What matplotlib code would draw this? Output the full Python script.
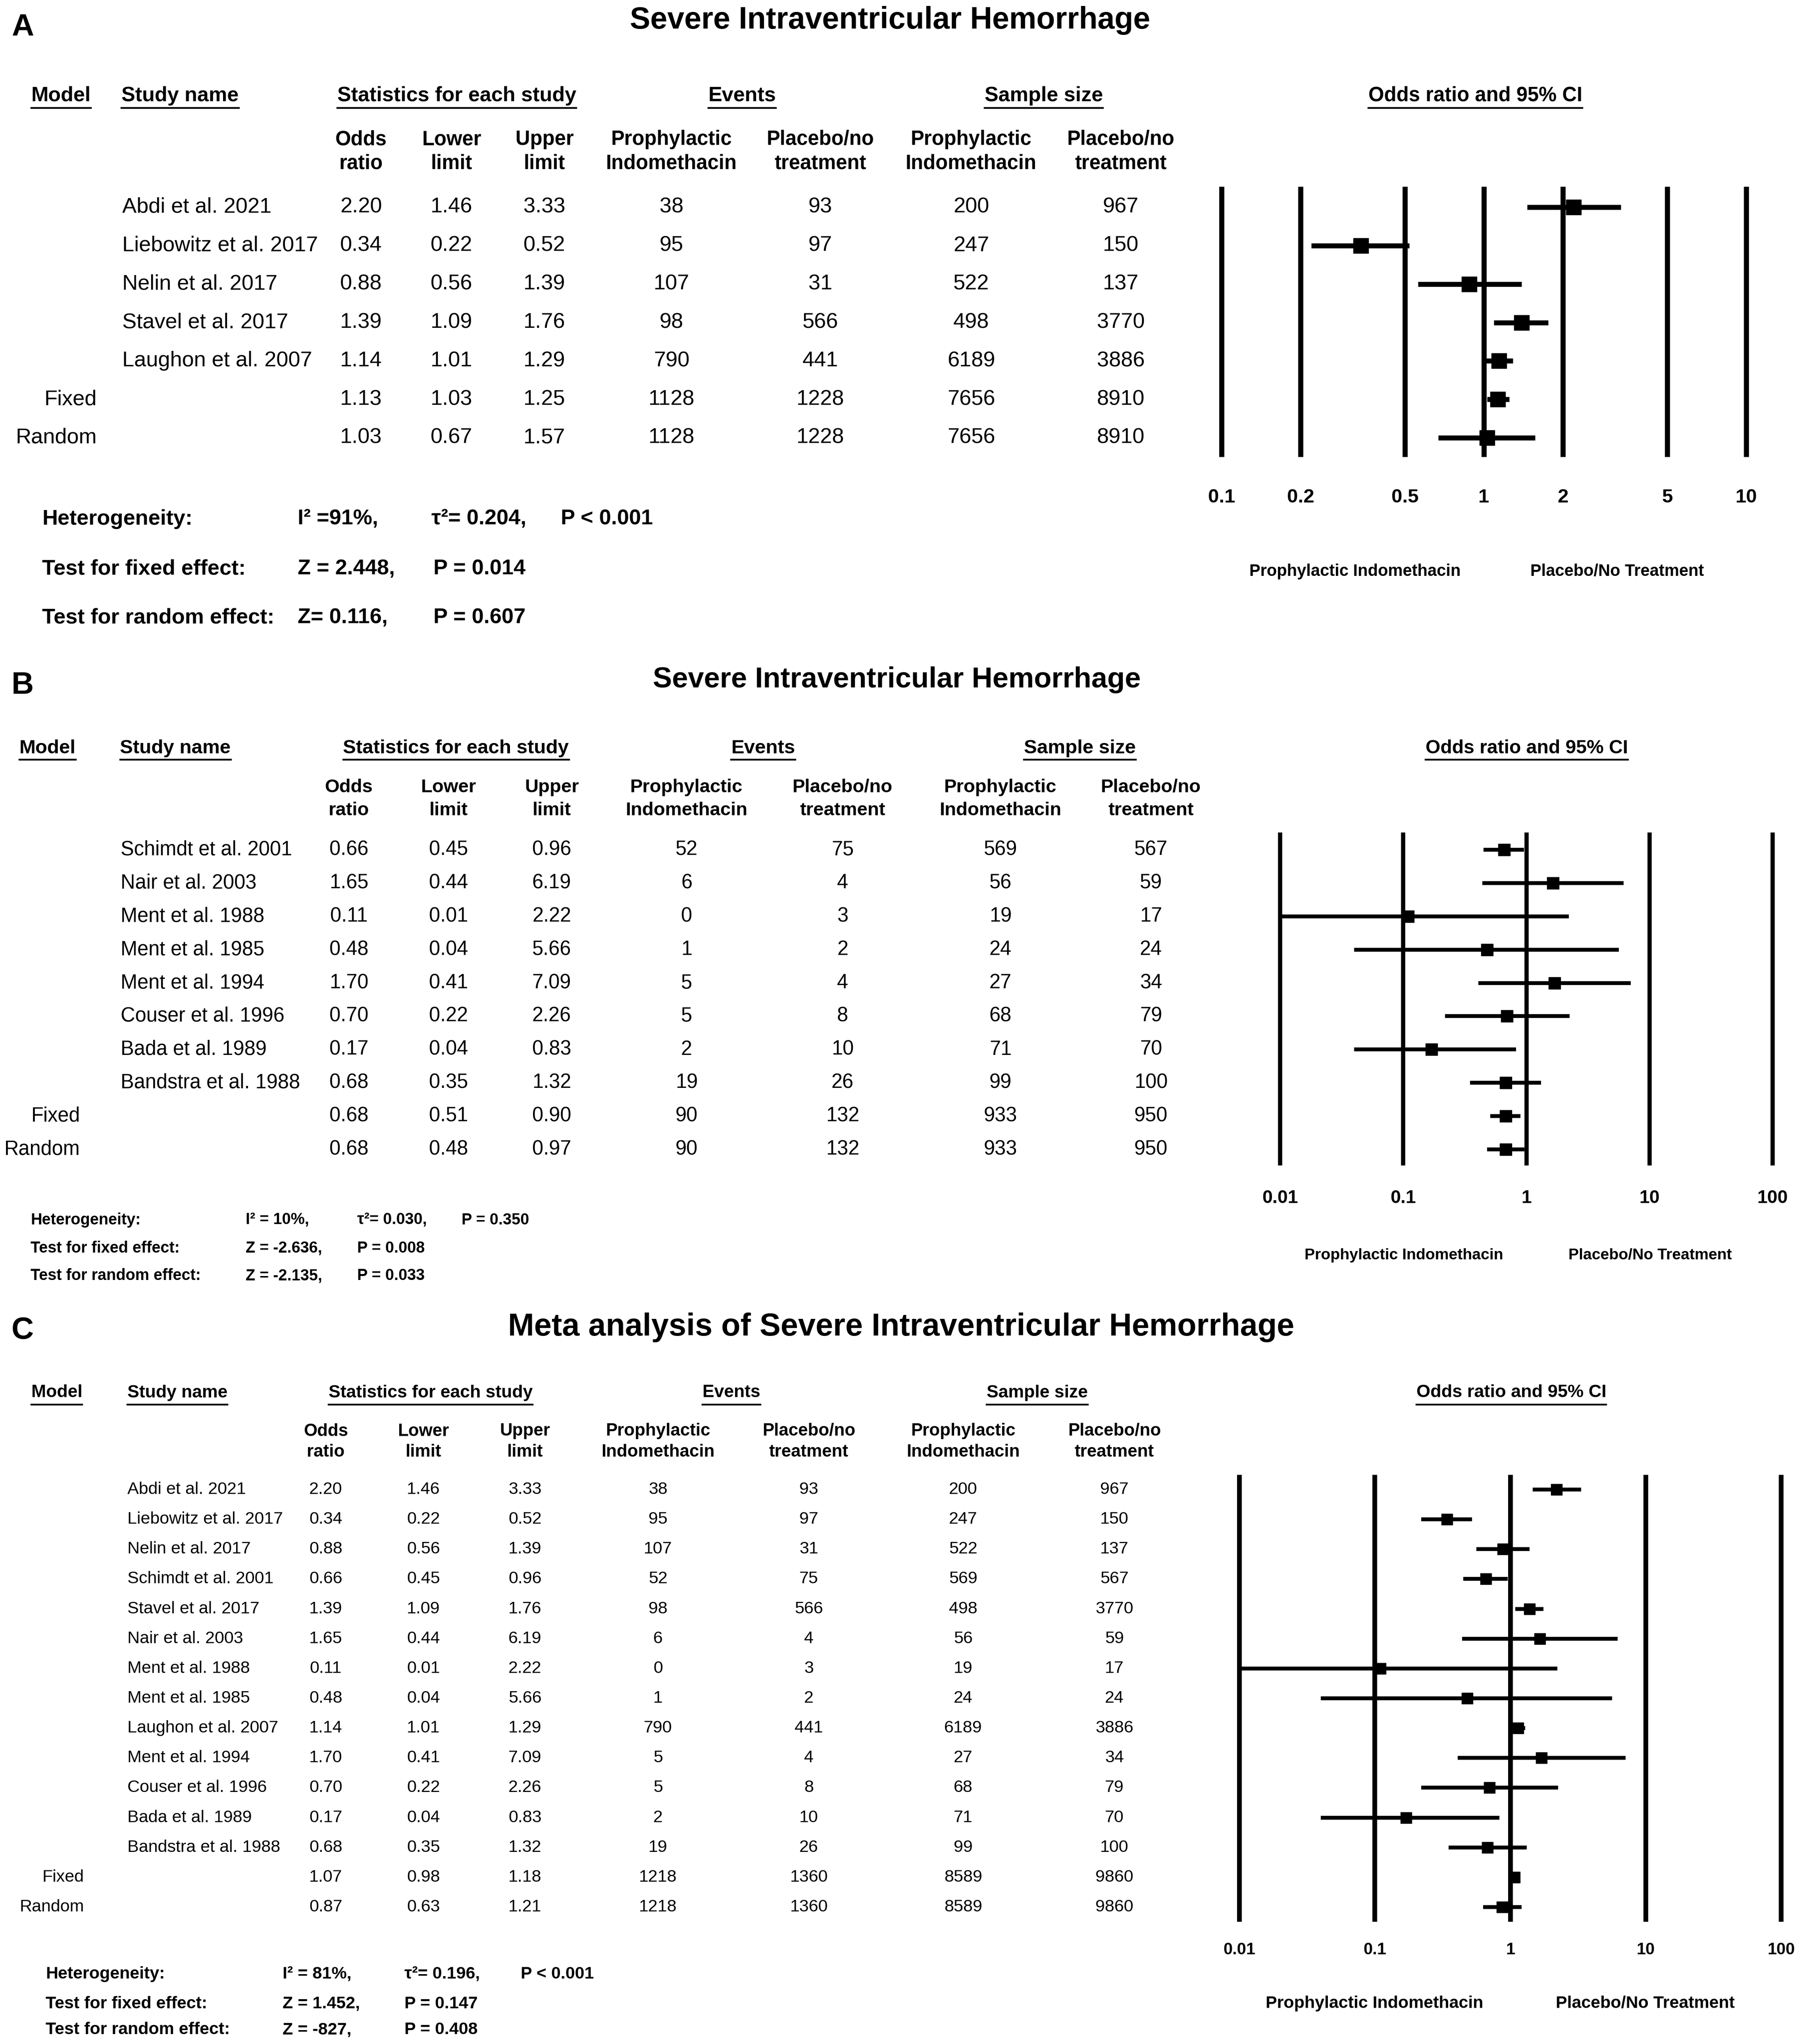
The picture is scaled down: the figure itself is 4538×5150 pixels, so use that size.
import matplotlib
matplotlib.use("Agg")
import matplotlib.pyplot as plt
from matplotlib.lines import Line2D

plt.rcParams['font.family'] = ['Liberation Sans', 'DejaVu Sans']

W, H = 4538, 5150
DPI = 100

# ------------------------------------------------------------------ data
# Panel A
a_title = "Severe Intraventricular Hemorrhage"
a_names = ["Abdi et al. 2021", "Liebowitz et al. 2017", "Nelin et al. 2017",
           "Stavel et al. 2017", "Laughon et al. 2007"]
a_models = ["Fixed", "Random"]
a_or = [2.20, 0.34, 0.88, 1.39, 1.14, 1.13, 1.03]
a_lo = [1.46, 0.22, 0.56, 1.09, 1.01, 1.03, 0.67]
a_hi = [3.33, 0.52, 1.39, 1.76, 1.29, 1.25, 1.57]
a_ev_ind = [38, 95, 107, 98, 790, 1128, 1128]
a_ev_pla = [93, 97, 31, 566, 441, 1228, 1228]
a_n_ind = [200, 247, 522, 498, 6189, 7656, 7656]
a_n_pla = [967, 150, 137, 3770, 3886, 8910, 8910]
a_ticks = [0.1, 0.2, 0.5, 1, 2, 5, 10]
a_tick_labels = ["0.1", "0.2", "0.5", "1", "2", "5", "10"]
a_het = [["Heterogeneity:", "I\u00b2 =91%,", "\u03c4\u00b2= 0.204,", "P < 0.001"],
         ["Test for fixed effect:", "Z = 2.448,", "P = 0.014"],
         ["Test for random effect:", "Z= 0.116,", "P = 0.607"]]

# Panel B
b_title = "Severe Intraventricular Hemorrhage"
b_names = ["Schimdt et al. 2001", "Nair et al. 2003", "Ment et al. 1988",
           "Ment et al. 1985", "Ment et al. 1994", "Couser et al. 1996",
           "Bada et al. 1989", "Bandstra et al. 1988"]
b_models = ["Fixed", "Random"]
b_or = [0.66, 1.65, 0.11, 0.48, 1.70, 0.70, 0.17, 0.68, 0.68, 0.68]
b_lo = [0.45, 0.44, 0.01, 0.04, 0.41, 0.22, 0.04, 0.35, 0.51, 0.48]
b_hi = [0.96, 6.19, 2.22, 5.66, 7.09, 2.26, 0.83, 1.32, 0.90, 0.97]
b_ev_ind = [52, 6, 0, 1, 5, 5, 2, 19, 90, 90]
b_ev_pla = [75, 4, 3, 2, 4, 8, 10, 26, 132, 132]
b_n_ind = [569, 56, 19, 24, 27, 68, 71, 99, 933, 933]
b_n_pla = [567, 59, 17, 24, 34, 79, 70, 100, 950, 950]
b_ticks = [0.01, 0.1, 1, 10, 100]
b_tick_labels = ["0.01", "0.1", "1", "10", "100"]
b_het = [["Heterogeneity:", "I\u00b2 = 10%,", "\u03c4\u00b2= 0.030,", "P = 0.350"],
         ["Test for fixed effect:", "Z = -2.636,", "P = 0.008"],
         ["Test for random effect:", "Z = -2.135,", "P = 0.033"]]

# Panel C
c_title = "Meta analysis of Severe Intraventricular Hemorrhage"
c_names = ["Abdi et al. 2021", "Liebowitz et al. 2017", "Nelin et al. 2017",
           "Schimdt et al. 2001", "Stavel et al. 2017", "Nair et al. 2003",
           "Ment et al. 1988", "Ment et al. 1985", "Laughon et al. 2007",
           "Ment et al. 1994", "Couser et al. 1996", "Bada et al. 1989",
           "Bandstra et al. 1988"]
c_models = ["Fixed", "Random"]
c_or = [2.20, 0.34, 0.88, 0.66, 1.39, 1.65, 0.11, 0.48, 1.14, 1.70, 0.70, 0.17, 0.68, 1.07, 0.87]
c_lo = [1.46, 0.22, 0.56, 0.45, 1.09, 0.44, 0.01, 0.04, 1.01, 0.41, 0.22, 0.04, 0.35, 0.98, 0.63]
c_hi = [3.33, 0.52, 1.39, 0.96, 1.76, 6.19, 2.22, 5.66, 1.29, 7.09, 2.26, 0.83, 1.32, 1.18, 1.21]
c_ev_ind = [38, 95, 107, 52, 98, 6, 0, 1, 790, 5, 5, 2, 19, 1218, 1218]
c_ev_pla = [93, 97, 31, 75, 566, 4, 3, 2, 441, 4, 8, 10, 26, 1360, 1360]
c_n_ind = [200, 247, 522, 569, 498, 56, 19, 24, 6189, 27, 68, 71, 99, 8589, 8589]
c_n_pla = [967, 150, 137, 567, 3770, 59, 17, 24, 3886, 34, 79, 70, 100, 9860, 9860]
c_ticks = [0.01, 0.1, 1, 10, 100]
c_tick_labels = ["0.01", "0.1", "1", "10", "100"]
c_het = [["Heterogeneity:", "I\u00b2 = 81%,", "\u03c4\u00b2= 0.196,", "P < 0.001"],
         ["Test for fixed effect:", "Z = 1.452,", "P = 0.147"],
         ["Test for random effect:", "Z = -827,", "P = 0.408"]]

head_top = ["Model", "Study name", "Statistics for each study", "Events", "Sample size"]
head_sub = ["Odds\nratio", "Lower\nlimit", "Upper\nlimit", "Prophylactic\nIndomethacin",
            "Placebo/no\ntreatment", "Prophylactic\nIndomethacin", "Placebo/no\ntreatment"]
forest_head = "Odds ratio and 95% CI"
favours = ["Prophylactic Indomethacin", "Placebo/No Treatment"]

# ------------------------------------------------------------------ figure
fig = plt.figure(figsize=(W / DPI, H / DPI), dpi=DPI)
fig.patch.set_facecolor("white")


def T(x, y, s, **kw):
    return fig.text(x / W, 1 - y / H, s, **kw)


underlined = []


def panel(cfg, letter, title, names, models, orr, lo, hi, ev_i, ev_p, n_i, n_p,
          ticks, tick_labels, het):
    T(cfg["label"][0], cfg["label"][1], letter, fontsize=56, fontweight="bold",
      ha="left", va="center")
    T(cfg["title"][0], cfg["title"][1], title, fontsize=cfg["title_fs"],
      fontweight="bold", ha="center", va="center")
    # top headers
    for s, x in zip(head_top, cfg["head_x"]):
        t = T(x, cfg["head_y"], s, fontsize=cfg["head_fs"], fontweight="bold",
              ha="center", va="center")
        underlined.append((t, cfg["head_y"] + cfg["ul_off"]))
    t = T(cfg["fhead_x"], cfg["head_y"], forest_head, fontsize=cfg["fhead_fs"],
          fontweight="bold", ha="center", va="center")
    underlined.append((t, cfg["head_y"] + cfg["ul_off"]))
    # sub headers
    for s, x in zip(head_sub, cfg["col_x"]):
        l1, l2 = s.split("\n")
        T(x, cfg["sub_y"][0], l1, fontsize=cfg["sub_fs"], fontweight="bold",
          ha="center", va="center")
        T(x, cfg["sub_y"][1], l2, fontsize=cfg["sub_fs"], fontweight="bold",
          ha="center", va="center")
    # rows
    n = len(orr)
    r0, rN = cfg["rows"]
    step = (rN - r0) / (n - 1)
    labels = names + models
    for i in range(n):
        y = r0 + i * step
        if i < len(names):
            T(cfg["study_x"], y, labels[i], fontsize=cfg["data_fs"], ha="left", va="center")
        else:
            T(cfg["model_r"], y, labels[i], fontsize=cfg["data_fs"], ha="right", va="center")
        vals = [f"{orr[i]:.2f}", f"{lo[i]:.2f}", f"{hi[i]:.2f}",
                str(ev_i[i]), str(ev_p[i]), str(n_i[i]), str(n_p[i])]
        for s, x in zip(vals, cfg["col_x"]):
            T(x, y, s, fontsize=cfg["data_fs"], ha="center", va="center")
    # heterogeneity block
    for row, y in zip(het, cfg["het_y"]):
        xs = cfg["het_x"] if len(row) == 4 else cfg["het_x2"]
        for s, x in zip(row, xs):
            T(x, y, s, fontsize=cfg["het_fs"], fontweight="bold", ha="left", va="center")
    # forest plot
    x0, x1 = cfg["fx"]
    yt, yb = cfg["fy"]
    ax = fig.add_axes([x0 / W, 1 - yb / H, (x1 - x0) / W, (yb - yt) / H])
    ax.set_xscale("log")
    ax.set_xlim(ticks[0], ticks[-1])
    yT = (yt - r0) / step
    yB = (yb - r0) / step
    ax.set_ylim(yB, yT)
    ax.axis("off")
    ax.vlines(ticks, yB, yT, colors="black", linewidth=cfg["vlw"],
              capstyle="butt", clip_on=False)
    idx = list(range(n))
    ax.hlines(idx, lo, hi, colors="black", linewidth=cfg["hlw"],
              capstyle="butt", clip_on=False, zorder=3)
    ax.plot(orr, idx, "s", color="black", markersize=cfg["ms"], clip_on=False, zorder=4)
    ylab = (cfg["tick_y"] - r0) / step
    for tv, tl in zip(ticks, tick_labels):
        ax.text(tv, ylab, tl, fontsize=cfg["tick_fs"], fontweight="bold",
                ha="center", va="center", clip_on=False)
    for s, x in zip(favours, cfg["fav_x"]):
        T(x, cfg["fav_y"], s, fontsize=cfg["fav_fs"], fontweight="bold",
          ha="center", va="center")


cfgA = dict(label=(29, 69), title=(2243, 51), title_fs=55.5,
            head_y=241, head_fs=37.5, head_x=[154, 454, 1151, 1870, 2630],
            fhead_x=3717, fhead_fs=36.5, ul_off=31,
            sub_y=(352, 412), sub_fs=36.5,
            col_x=[910, 1138, 1372, 1692, 2067, 2447, 2824],
            rows=(522, 1103), study_x=308, model_r=244, data_fs=39,
            het_y=[1308, 1434, 1557], het_x=[106, 750, 1087, 1413], het_x2=[106, 750, 1092],
            het_fs=39,
            fx=(3078, 4400), fy=(470, 1151), vlw=9.2, hlw=9, ms=27,
            tick_y=1254, tick_fs=35.5, fav_x=(3414, 4075), fav_y=1440, fav_fs=30)

cfgB = dict(label=(29, 1727), title=(2260, 1713), title_fs=52,
            head_y=1886, head_fs=35.5, head_x=[120, 442, 1149, 1923, 2721],
            fhead_x=3847, fhead_fs=34.6, ul_off=28,
            sub_y=(1984, 2042), sub_fs=34,
            col_x=[879, 1130, 1390, 1730, 2123, 2521, 2900],
            rows=(2141, 2896), study_x=304, model_r=202, data_fs=36.4,
            het_y=[3074, 3145, 3214], het_x=[77, 619, 900, 1163], het_x2=[77, 619, 900],
            het_fs=28.5,
            fx=(3225, 4466), fy=(2097, 2936), vlw=7.6, hlw=7, ms=22,
            tick_y=3019, tick_fs=33.5, fav_x=(3537, 4158), fav_y=3163, fav_fs=28.3)

cfgC = dict(label=(29, 3353), title=(2271, 3345), title_fs=57,
            head_y=3509, head_fs=32, head_x=[143, 447, 1085, 1843, 2613],
            fhead_x=3808, fhead_fs=32.5, ul_off=30,
            sub_y=(3606, 3658), sub_fs=31.6,
            col_x=[821, 1067, 1323, 1658, 2038, 2427, 2808],
            rows=(3753, 4805), study_x=321, model_r=212, data_fs=31,
            het_y=[4974, 5049, 5114], het_x=[115, 712, 1019, 1312], het_x2=[115, 712, 1019],
            het_fs=31,
            fx=(3123, 4488), fy=(3716, 4842), vlw=8.6, hlw=7, ms=20,
            tick_y=4913, tick_fs=30, fav_x=(3463, 4145), fav_y=5048, fav_fs=31)

panel(cfgA, "A", a_title, a_names, a_models, a_or, a_lo, a_hi, a_ev_ind, a_ev_pla,
      a_n_ind, a_n_pla, a_ticks, a_tick_labels, a_het)
panel(cfgB, "B", b_title, b_names, b_models, b_or, b_lo, b_hi, b_ev_ind, b_ev_pla,
      b_n_ind, b_n_pla, b_ticks, b_tick_labels, b_het)
panel(cfgC, "C", c_title, c_names, c_models, c_or, c_lo, c_hi, c_ev_ind, c_ev_pla,
      c_n_ind, c_n_pla, c_ticks, c_tick_labels, c_het)

# underlines under header texts
fig.canvas.draw()
rend = fig.canvas.get_renderer()
for t, y in underlined:
    bb = t.get_window_extent(rend)
    fig.add_artist(Line2D([bb.x0 / W, bb.x1 / W], [1 - y / H, 1 - y / H],
                          transform=fig.transFigure, color="black", linewidth=3.2))

fig.savefig("out.png", dpi=DPI, facecolor="white")
